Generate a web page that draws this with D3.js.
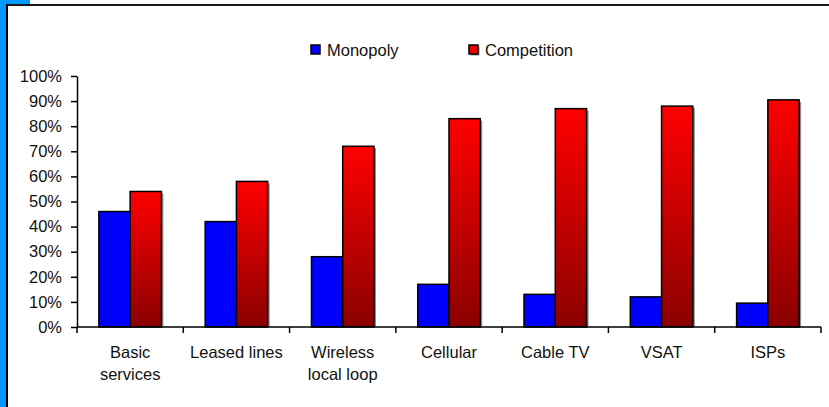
<!DOCTYPE html>
<html>
<head>
<meta charset="utf-8">
<script src="https://cdn.jsdelivr.net/npm/d3@7"></script>
<style>
  body { margin: 0; background: #fff; }
  svg { display: block; font-family: "Liberation Sans", Arial, sans-serif; }
</style>
</head>
<body>
<script>
// values (percent of countries)
let categories = ['Basic\nservices', 'Leased lines', 'Wireless\nlocal loop', 'Cellular', 'Cable TV', 'VSAT', 'ISPs'];
let series = ['Monopoly', 'Competition'];
let monopoly = [46, 42, 28, 17, 13, 12, 9.5];
let competition = [54, 58, 72, 83, 87, 88, 90.5];
let yTicks = [0, 10, 20, 30, 40, 50, 60, 70, 80, 90, 100];

let width = 829;
let height = 407;
let fontSize = 16.5;

let svg = d3.select('body').append('svg')
    .attr('width', width)
    .attr('height', height);

// left blue strip and frame
svg.append('rect').attr('x', 0).attr('y', 0).attr('width', 6).attr('height', height).attr('fill', '#0099ff');
svg.append('rect').attr('x', 0).attr('y', 0).attr('width', 30).attr('height', 5).attr('fill', '#0099ff');
svg.append('line').attr('x1', 6).attr('x2', width).attr('y1', 5).attr('y2', 5)
    .attr('stroke', '#1a1a1a').attr('stroke-width', 2);
svg.append('line').attr('x1', 7).attr('x2', 7).attr('y1', 4).attr('y2', height)
    .attr('stroke', '#000').attr('stroke-width', 2);

let defs = svg.append('defs');
let grad = defs.append('linearGradient').attr('id', 'redGrad')
    .attr('x1', 0).attr('y1', 0).attr('x2', 0).attr('y2', 1);
grad.append('stop').attr('offset', '0%').attr('stop-color', '#ff0000');
grad.append('stop').attr('offset', '100%').attr('stop-color', '#8a0000');

let x0 = d3.scaleBand()
    .domain(categories)
    .range([77, 821])
    .padding(0);

let x1 = d3.scaleBand()
    .domain(series)
    .range([0, x0.bandwidth()])
    .paddingInner(0)
    .paddingOuter(0.7);

let y = d3.scaleLinear()
    .domain([0, 100])
    .range([327, 76]);

let rows = categories.map((c, i) => ({cat: c, Monopoly: monopoly[i], Competition: competition[i]}));

// bars
let groups = svg.selectAll('.group')
    .data(rows)
    .join('g')
    .attr('class', 'group')
    .attr('transform', d => `translate(${x0(d.cat)},0)`);

// shadow of the red bars
groups.append('rect')
    .attr('x', x1('Competition') + 2)
    .attr('y', d => y(d.Competition) + 2)
    .attr('width', x1.bandwidth())
    .attr('height', d => y(0) - y(d.Competition) - 2)
    .attr('fill', '#8c8c8c');

groups.append('rect')
    .attr('x', x1('Monopoly'))
    .attr('y', d => y(d.Monopoly))
    .attr('width', x1.bandwidth())
    .attr('height', d => y(0) - y(d.Monopoly))
    .attr('fill', '#0000ff')
    .attr('stroke', '#000')
    .attr('stroke-width', 1.5);

groups.append('rect')
    .attr('x', x1('Competition'))
    .attr('y', d => y(d.Competition))
    .attr('width', x1.bandwidth())
    .attr('height', d => y(0) - y(d.Competition))
    .attr('fill', 'url(#redGrad)')
    .attr('stroke', '#000')
    .attr('stroke-width', 1.5);

// y axis
let yAxis = svg.append('g')
    .attr('transform', 'translate(77,0)')
    .call(d3.axisLeft(y).tickValues(yTicks).tickFormat(d => d + '%').tickSize(6).tickSizeOuter(0).tickPadding(9));
yAxis.selectAll('path, line').attr('stroke', '#000').attr('stroke-width', 1.5);
yAxis.selectAll('text').attr('font-size', fontSize).attr('fill', '#111')
    .attr('font-family', '"Liberation Sans", Arial, sans-serif');

// x axis: line plus ticks on category boundaries
let xAxis = svg.append('g');
xAxis.append('line')
    .attr('x1', x0.range()[0]).attr('x2', x0.range()[1])
    .attr('y1', y(0)).attr('y2', y(0))
    .attr('stroke', '#000').attr('stroke-width', 1.5);
let bounds = categories.map(c => x0(c)).concat([x0.range()[1]]);
xAxis.selectAll('.xtick')
    .data(bounds)
    .join('line')
    .attr('class', 'xtick')
    .attr('x1', d => d).attr('x2', d => d)
    .attr('y1', y(0)).attr('y2', y(0) + 6)
    .attr('stroke', '#000').attr('stroke-width', 1.5);

let labels = xAxis.selectAll('.xlabel')
    .data(categories)
    .join('text')
    .attr('class', 'xlabel')
    .attr('text-anchor', 'middle')
    .attr('font-size', fontSize)
    .attr('fill', '#111');
labels.selectAll('tspan')
    .data(d => d.split('\n').map(t => ({t: t, c: d})))
    .join('tspan')
    .attr('x', d => x0(d.c) + x0.bandwidth() / 2)
    .attr('y', (d, i) => 358 + i * 22)
    .text(d => d.t);

// legend
let legend = svg.append('g');
let legendX = [311, 469];
let legendColor = ['#0000ff', '#ee0000'];
series.forEach((s, i) => {
    if (i === 1) {
        legend.append('rect').attr('x', legendX[i] + 1.5).attr('y', 46.5)
            .attr('width', 9).attr('height', 9).attr('fill', '#8c8c8c');
    }
    legend.append('rect')
        .attr('x', legendX[i]).attr('y', 45)
        .attr('width', 9).attr('height', 9)
        .attr('fill', legendColor[i])
        .attr('stroke', '#000').attr('stroke-width', 1.5);
    legend.append('text')
        .attr('x', legendX[i] + 16).attr('y', 56)
        .attr('font-size', fontSize).attr('fill', '#111')
        .text(s);
});
</script>
</body>
</html>
